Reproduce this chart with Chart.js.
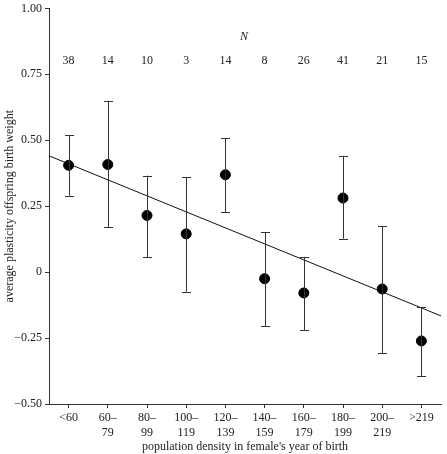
<!DOCTYPE html>
<html lang="en">
<head>
    <meta charset="UTF-8">
    <title>Plasticity vs population density</title>
    <script src="https://cdn.jsdelivr.net/npm/chart.js"></script>
    <style>
        * { margin: 0; padding: 0; }
        body { background: #ffffff; width: 447px; height: 454px; overflow: hidden; }
    </style>
</head>
<body>
    <canvas id="plasticityChart" width="447" height="454"></canvas>

    <script>
        // values
        const densityClasses = [['<60'], ['60–', '79'], ['80–', '99'], ['100–', '119'], ['120–', '139'],
            ['140–', '159'], ['160–', '179'], ['180–', '199'], ['200–', '219'], ['>219']];
        const sampleSizes = [38, 14, 10, 3, 14, 8, 26, 41, 21, 15];
        const meanPlasticity = [0.405, 0.408, 0.215, 0.145, 0.369, -0.025, -0.079, 0.281, -0.064, -0.261];
        const upperBar = [0.52, 0.65, 0.366, 0.361, 0.507, 0.151, 0.058, 0.441, 0.175, -0.133];
        const lowerBar = [0.29, 0.17, 0.057, -0.074, 0.228, -0.204, -0.219, 0.127, -0.307, -0.394];
        const fitLine = [{ x: -0.5, y: 0.441 }, { x: 9.5, y: -0.166 }];
        const yTicks = [-0.5, -0.25, 0, 0.25, 0.5, 0.75, 1.0];

        const ink = '#222';
        const serif = 'Liberation Serif, Times New Roman, serif';

        // error bars + N row
        const extras = {
            id: 'extras',
            afterDatasetsDraw(chart) {
                const ctx = chart.ctx;
                const xs = chart.scales.x, ys = chart.scales.y;
                ctx.save();
                ctx.strokeStyle = '#333';
                ctx.lineWidth = 1;
                meanPlasticity.forEach((m, i) => {
                    const px = Math.round(xs.getPixelForValue(i)) + 0.5;
                    const top = ys.getPixelForValue(upperBar[i]);
                    const bot = ys.getPixelForValue(lowerBar[i]);
                    ctx.beginPath();
                    ctx.moveTo(px, top); ctx.lineTo(px, bot);
                    ctx.moveTo(px - 4.5, Math.round(top) + 0.5); ctx.lineTo(px + 4.5, Math.round(top) + 0.5);
                    ctx.moveTo(px - 4.5, Math.round(bot) + 0.5); ctx.lineTo(px + 4.5, Math.round(bot) + 0.5);
                    ctx.stroke();
                });
                ctx.fillStyle = ink;
                ctx.textAlign = 'center';
                ctx.textBaseline = 'middle';
                ctx.font = 'italic 12px ' + serif;
                const area = chart.chartArea;
                ctx.fillText('N', (area.left + area.right) / 2 - 1, area.top + 28);
                ctx.font = '12px ' + serif;
                sampleSizes.forEach((n, i) => {
                    ctx.fillText(String(n), xs.getPixelForValue(i), area.top + 52);
                });
                ctx.restore();
            }
        };

        new Chart(document.getElementById('plasticityChart'), {
            type: 'scatter',
            data: {
                datasets: [{
                    label: 'fit',
                    type: 'line',
                    data: fitLine,
                    borderColor: '#111',
                    borderWidth: 1,
                    pointRadius: 0,
                    order: 2
                }, {
                    label: 'mean',
                    data: meanPlasticity.map((v, i) => ({ x: i, y: v })),
                    backgroundColor: '#000',
                    borderColor: '#000',
                    pointRadius: 5,
                    order: 0
                }]
            },
            options: {
                responsive: false,
                animation: false,
                layout: { padding: { top: 7, right: 1, left: 0, bottom: 0 } },
                plugins: { legend: { display: false }, tooltip: { enabled: false } },
                scales: {
                    x: {
                        type: 'linear',
                        min: -0.5,
                        max: 9.5,
                        afterBuildTicks: s => { s.ticks = densityClasses.map((c, i) => ({ value: i })); },
                        afterFit: s => { s.height = 50; },
                        grid: { display: true, drawOnChartArea: false, drawTicks: true, tickLength: 4, color: '#333' },
                        border: { display: true, color: '#333', width: 1 },
                        ticks: {
                            autoSkip: false,
                            maxRotation: 0,
                            padding: 3,
                            color: ink,
                            font: { family: serif, size: 12, lineHeight: 1.2 },
                            callback: v => densityClasses[v]
                        },
                        title: {
                            display: true,
                            text: "population density in female's year of birth",
                            color: ink,
                            font: { family: serif, size: 12 },
                            padding: { top: 1, bottom: 0 }
                        }
                    },
                    y: {
                        min: -0.5,
                        max: 1.0,
                        afterBuildTicks: s => { s.ticks = yTicks.map(v => ({ value: v })); },
                        afterFit: s => { s.width = 49; },
                        grid: { display: true, drawOnChartArea: false, drawTicks: true, tickLength: 4, color: '#333' },
                        border: { display: true, color: '#333', width: 1 },
                        ticks: {
                            padding: 3,
                            color: ink,
                            font: { family: serif, size: 12, lineHeight: 0.9 },
                            callback: v => v === 0 ? '0' : (v < 0 ? '−' + Math.abs(v).toFixed(2) : v.toFixed(2))
                        },
                        title: {
                            display: true,
                            text: 'average plasticity offspring birth weight',
                            color: ink,
                            font: { family: serif, size: 12 },
                            padding: { top: 3, bottom: 3 }
                        }
                    }
                }
            },
            plugins: [extras]
        });
    </script>
</body>
</html>
